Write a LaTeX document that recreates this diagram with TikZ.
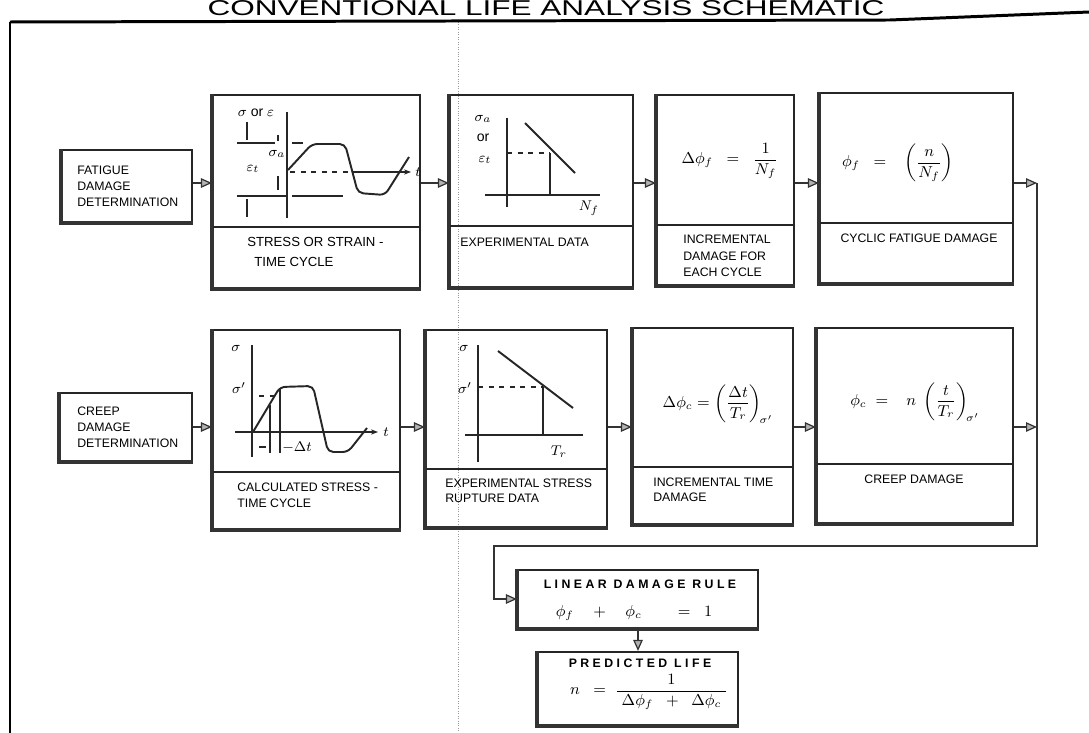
\documentclass[tikz,border=0pt]{standalone}
\usepackage{amsmath}
\usepackage{graphicx}
\usepackage{fontspec}
\setmainfont{Liberation Sans}
\newfontfamily\widefont[LetterSpace=28]{Liberation Sans}
\usetikzlibrary{arrows.meta,calc}
\tikzset{
  box/.style={draw=black!85, line width=1.2pt, rectangle, inner sep=0pt},
  shadeline/.style={draw=black!80, line width=2.6pt},
  divline/.style={draw=black!85, line width=1.3pt},
  arr/.style={draw=black!80, line width=0.9pt, -{Triangle[length=0.22cm,width=0.19cm,line width=0.7pt,fill=black!30]}},
  pl/.style={draw=black!85, line width=1.1pt},
  lbl/.style={font=\fontsize{7}{9}\selectfont, align=left, inner sep=0pt},
  sm/.style={font=\fontsize{8}{9}\selectfont, inner sep=0pt},
  fm/.style={font=\fontsize{9}{10}\selectfont, inner sep=0pt},
  head/.style={font=\fontsize{7}{8}\selectfont\widefont\bfseries, inner sep=0pt},
}
\newcommand\mkbox[5]{%
  \node[box, minimum width={(#4-#2)*0.02cm}, minimum height={(#5-#3)*0.02cm}] (#1) at ({(#2+#4)/2},{(#3+#5)/2}) {};
  \draw[shadeline] (#1.north west) -- (#1.south west) -- (#1.south east);}
\begin{document}
\begin{tikzpicture}[x=0.02cm,y=-0.02cm]
\useasboundingbox (0,0) rectangle (1089,733);
\clip (0,0) rectangle (1089,733);
% frame and fold
\draw[black!40, densely dotted, line width=0.4pt] (458,22) -- (458,733);
\draw[black, line width=1.2pt] (10,733) -- (10,22);
\draw[black, line width=1.7pt] (10,22) -- (890,20) -- (1089,12);
\node[anchor=base, inner sep=0pt] (title) at (546,16) {\resizebox{13.54cm}{0.30cm}{CONVENTIONAL LIFE ANALYSIS SCHEMATIC}};

% boxes
\mkbox{fat}{62}{150}{192}{222}
\mkbox{b2}{213}{95}{420}{288}
\mkbox{b3}{450}{95}{633}{287}
\mkbox{b4}{657}{95}{794}{285}
\mkbox{b5}{820}{93}{1013}{283}
\mkbox{crp}{60}{393}{192}{461}
\mkbox{b7}{213}{330}{400}{529}
\mkbox{b8}{426}{330}{607}{527}
\mkbox{b9}{633}{328}{793}{524}
\mkbox{b10}{817}{328}{1013}{523}
\mkbox{lin}{518}{570}{758}{628}
\mkbox{pred}{538}{652}{738}{725}
% dividers
\draw[divline] (213,227) -- (420,227);
\draw[divline] (450,226) -- (633,226);
\draw[divline] (657,225) -- (794,225);
\draw[divline] (820,223) -- (1013,223);
\draw[divline] (213,472) -- (400,472);
\draw[divline] (426,469) -- (607,469);
\draw[divline] (633,467) -- (793,467);
\draw[divline] (817,464) -- (1013,464);

% connectors
\coordinate (ra) at (0,183);
\coordinate (rb) at (0,427);
\coordinate (vr) at (1037,183);
\coordinate (c1) at (1037,546);
\coordinate (c2) at (494,546);
\draw[arr] (fat.east |- ra) -- (b2.west |- ra);
\draw[arr] (b2.east |- ra) -- (b3.west |- ra);
\draw[arr] (b3.east |- ra) -- (b4.west |- ra);
\draw[arr] (b4.east |- ra) -- (b5.west |- ra);
\draw[arr] (b5.east |- ra) -- (vr);
\draw[arr] (crp.east |- rb) -- (b7.west |- rb);
\draw[arr] (b7.east |- rb) -- (b8.west |- rb);
\draw[arr] (b8.east |- rb) -- (b9.west |- rb);
\draw[arr] (b9.east |- rb) -- (b10.west |- rb);
\draw[arr] (b10.east |- rb) -- (vr |- rb);
\draw[arr] (vr) -- (c1) -- (c2) |- (lin.west);
\draw[arr] (lin.south) -- (pred.north);

% box labels
\node[lbl, anchor=west] (tfat) at (77,186) {FATIGUE\\DAMAGE\\DETERMINATION};
\node[lbl, anchor=west, font=\fontsize{7.5}{11.3}\selectfont] (tb2) at (247,252) {STRESS OR STRAIN -\\\hspace*{4pt}TIME CYCLE};
\node[lbl, anchor=west] (tb3) at (460,242) {EXPERIMENTAL DATA};
\node[lbl, anchor=west, font=\fontsize{7}{9.3}\selectfont] (tb4) at (683,256) {INCREMENTAL\\DAMAGE FOR\\EACH CYCLE};
\node[lbl] (tb5) at (919,238) {CYCLIC FATIGUE DAMAGE};
\node[lbl, anchor=west] (tcrp) at (77,427) {CREEP\\DAMAGE\\DETERMINATION};
\node[lbl, anchor=west] (tb7) at (237,495) {CALCULATED STRESS -\\TIME CYCLE};
\node[lbl, anchor=west, font=\fontsize{7}{8.5}\selectfont] (tb8) at (445,491) {EXPERIMENTAL STRESS\\RUPTURE DATA};
\node[lbl, anchor=west, font=\fontsize{7}{8.5}\selectfont] (tb9) at (653,490) {INCREMENTAL TIME\\DAMAGE};
\node[lbl] (tb10) at (914,479) {CREEP DAMAGE};
\node[head] (tlin) at (640,584) {LINEAR DAMAGE RULE};
\node[head] (tpred) at (640,663) {PREDICTED LIFE};

% formulas
\node[fm] (f4) at (730,161) {$\Delta\phi_{f}\;\;=\;\;\dfrac{1}{N_f}$};
\node[fm] (f5) at (898,163) {$\phi_f\;\;=\;\;\;\left(\dfrac{n}{N_f}\right)$};
\node[fm] (f9) at (718,404) {$\Delta\phi_c = \left(\dfrac{\Delta t}{T_r}\right)_{\!\sigma'}$};
\node[fm] (f10) at (915,402) {$\phi_c \;=\;\;\; n\;\left(\dfrac{t}{T_r}\right)_{\!\sigma'}$};
\node[fm] (flin) at (634,613) {$\phi_f \quad+\quad \phi_c \qquad=\;\; 1$};
\node[fm] (fpred) at (649,692) {$n \;\;=\; \dfrac{1}{\;\Delta\phi_f \;\;+\;\; \Delta\phi_c\;}$};

% plot: stress or strain - time cycle
\draw[pl] (287,112) -- (287,218);
\draw[pl,dashed] (290,172) -- (352,172);
\draw[pl,-{Stealth[length=4pt]}] (352,172) -- (411,172);
\node[sm] (p2t) at (418,172) {$t$};
\draw[pl] (237,143) -- (275,143);
\draw[pl] (292,143) -- (303,143);
\draw[pl] (237,196) -- (287,196);
\draw[pl] (292,196) -- (343,196);
\draw[pl, rounded corners=3pt] (288,170) -- (312,144) -- (345,144) -- (358,193) -- (385,195) -- (409,157);
\draw[pl] (247,122) -- (247,140);
\draw[pl] (247,199) -- (247,217);
\draw[pl] (278,135) -- (278,141);
\draw[pl] (278,176) -- (278,190);
\node[sm] (p2a) at (256,113) {$\sigma$ or $\varepsilon$};
\node[sm] (p2b) at (277,154) {$\sigma_a$};
\node[sm] (p2c) at (253,169) {$\varepsilon_t$};

% plot: experimental data
\draw[pl] (507,118) -- (507,207);
\draw[pl] (485,195) -- (600,195);
\draw[pl] (525,123) -- (575,173);
\draw[pl,dashed] (507,153) -- (550,153);
\draw[pl] (550,153) -- (550,195);
\node[sm] (p3a) at (483,119) {$\sigma_a$};
\node[sm] (p3b) at (483,138) {or};
\node[sm] (p3c) at (485,160) {$\varepsilon_t$};
\node[sm] (p3d) at (589,208) {$N_f$};

% plot: calculated stress - time cycle
\draw[pl] (252,345) -- (252,457);
\draw[pl,-{Stealth[length=4pt]}] (235,432) -- (378,432);
\node[sm] (p7t) at (386,432) {$t$};
\draw[pl, rounded corners=3pt] (253,432) -- (280,387) -- (313,386) -- (328,452) -- (348,452) -- (367,428);
\draw[pl] (270,405) -- (270,453);
\draw[pl] (280,388) -- (280,453);
\draw[pl,dashed] (259,396) -- (277,396);
\draw[pl] (259,447) -- (266,447);
\node[sm] (p7a) at (236,348) {$\sigma$};
\node[sm] (p7b) at (239,388) {$\sigma'$};
\node[sm, anchor=west] (p7c) at (282,447) {$-\Delta t$};

% plot: experimental stress rupture data
\draw[pl] (478,345) -- (478,462);
\draw[pl] (465,435) -- (583,435);
\draw[pl] (498,351) -- (573,408);
\draw[pl,dashed] (478,387) -- (543,387);
\draw[pl] (543,387) -- (543,435);
\node[sm] (p8a) at (464,348) {$\sigma$};
\node[sm] (p8b) at (465,388) {$\sigma'$};
\node[sm] (p8c) at (559,452) {$T_r$};
\end{tikzpicture}
\end{document}
